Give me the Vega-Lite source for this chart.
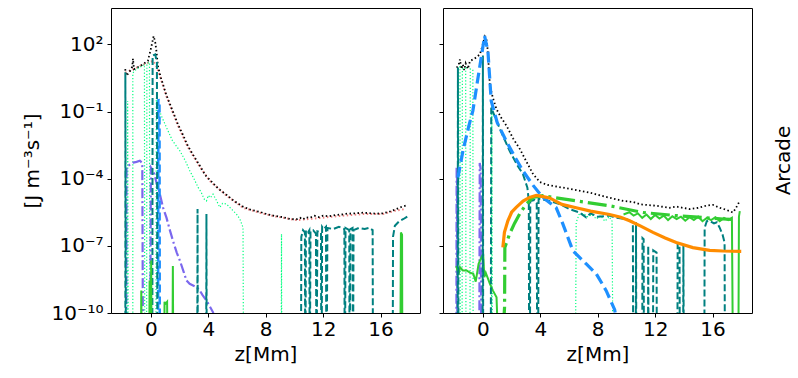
{
  "$schema": "https://vega.github.io/schema/vega-lite/v6.json",
  "padding": {"left": 22, "top": 7, "right": 5, "bottom": 5},
  "config": {
    "font": "DejaVu Sans",
    "view": {"stroke": "black", "strokeWidth": 1},
    "axis": {"grid": false, "domain": false, "tickColor": "black", "tickSize": 4, "labelColor": "black", "titleColor": "black", "labelFontSize": 20, "titleFontSize": 20, "titleFontWeight": "normal", "labelFont": "DejaVu Sans", "titleFont": "DejaVu Sans"},
    "title": {"font": "DejaVu Sans", "fontSize": 20, "fontWeight": "normal", "color": "black"}
  },
  "datasets": {
    "L_tot": [{"z":-1.79,"v":7.76},{"z":-1.72,"v":3.98},{"z":-1.5,"v":5.62},{"z":-1.3,"v":10},{"z":-1.25,"v":22.9},{"z":-1.18,"v":7.76},{"z":-0.9,"v":9.55},{"z":-0.67,"v":11.5},{"z":-0.4,"v":15.1},{"z":-0.21,"v":18.2},{"z":0.0,"v":63.1},{"z":0.19,"v":234},{"z":0.3,"v":126},{"z":0.37,"v":60.3},{"z":0.49,"v":10.7},{"z":0.7,"v":3.16},{"z":1.06,"v":0.589},{"z":1.5,"v":0.112},{"z":1.88,"v":0.0269},{"z":2.2,"v":0.01},{"z":2.57,"v":0.00295},{"z":3.0,"v":0.001},{"z":3.39,"v":3.98e-4},{"z":3.8,"v":1.41e-4},{"z":4.1,"v":8.91e-5},{"z":4.7,"v":3.55e-5},{"z":5.26,"v":1.91e-5},{"z":5.8,"v":1e-5},{"z":6.42,"v":5.62e-6},{"z":7.0,"v":3.98e-6},{"z":7.58,"v":3.31e-6},{"z":8.05,"v":2.63e-6},{"z":8.6,"v":2.19e-6},{"z":9.2,"v":1.91e-6},{"z":9.7,"v":1.58e-6},{"z":10.13,"v":1.51e-6},{"z":10.4,"v":1.78e-6},{"z":10.6,"v":1.51e-6},{"z":10.8,"v":1.91e-6},{"z":11.06,"v":1.78e-6},{"z":11.4,"v":2.19e-6},{"z":11.7,"v":1.91e-6},{"z":12.0,"v":2.24e-6},{"z":12.4,"v":2.09e-6},{"z":12.9,"v":2.4e-6},{"z":13.3,"v":2.51e-6},{"z":13.7,"v":2.75e-6},{"z":14.2,"v":2.82e-6},{"z":14.77,"v":3.02e-6},{"z":15.2,"v":2.88e-6},{"z":15.7,"v":2.75e-6},{"z":16.16,"v":2.82e-6},{"z":16.6,"v":3.31e-6},{"z":17.09,"v":4.37e-6},{"z":17.5,"v":5.62e-6},{"z":17.9,"v":6.61e-6}],
    "L_ohm": [{"z":-1.79,"v":5.37},{"z":-1.2,"v":7.94},{"z":-0.6,"v":12.0},{"z":-0.19,"v":15.1},{"z":0.16,"v":18.2},{"z":0.4,"v":10},{"z":0.7,"v":2.82},{"z":1.06,"v":0.525},{"z":1.5,"v":0.1},{"z":1.88,"v":0.024},{"z":2.57,"v":0.00263},{"z":3.39,"v":3.55e-4},{"z":4.1,"v":7.94e-5},{"z":5.26,"v":1.78e-5},{"z":6.42,"v":5.01e-6},{"z":7.58,"v":3.02e-6},{"z":8.6,"v":2.09e-6},{"z":10.13,"v":1.41e-6},{"z":11.06,"v":1.58e-6},{"z":12.9,"v":2.09e-6},{"z":14.77,"v":2.63e-6},{"z":16.16,"v":2.63e-6},{"z":17.09,"v":3.8e-6},{"z":17.74,"v":4.37e-6}],
    "L_sg": [{"z":-1.62,"v":1e-12},{"z":-1.62,"v":0.295},{"z":-1.58,"v":1e-12},{"z":-1.26,"v":1e-12},{"z":-1.26,"v":5.25},{"z":-1.0,"v":7.94},{"z":-0.7,"v":10},{"z":-0.45,"v":12.6},{"z":-0.43,"v":1e-12},{"z":-0.3,"v":1e-12},{"z":-0.28,"v":14.1},{"z":-0.1,"v":15.8},{"z":-0.08,"v":1e-12},{"z":0.35,"v":1e-12},{"z":0.38,"v":0.398},{"z":0.51,"v":0.148},{"z":0.8,"v":0.0501},{"z":1.09,"v":0.0191},{"z":1.5,"v":0.00501},{"z":2.02,"v":0.00174},{"z":2.4,"v":6.31e-4},{"z":2.71,"v":2.24e-4},{"z":3.0,"v":1e-4},{"z":3.29,"v":4.07e-5},{"z":3.5,"v":2.51e-5},{"z":3.7,"v":1.26e-5},{"z":3.87,"v":1.02e-5},{"z":4.0,"v":1.78e-5},{"z":4.15,"v":1.41e-5},{"z":4.33,"v":2.04e-5},{"z":4.55,"v":1.12e-5},{"z":4.8,"v":5.25e-6},{"z":5.0,"v":7.94e-6},{"z":5.26,"v":7.41e-6},{"z":5.6,"v":4.47e-6},{"z":5.96,"v":2.63e-6},{"z":6.2,"v":1.58e-6},{"z":6.42,"v":6.61e-7},{"z":6.45,"v":1e-12},{"z":9.08,"v":1e-12},{"z":9.1,"v":3.39e-7},{"z":9.12,"v":1e-12}],
    "L_teal": [{"z":-1.78,"v":1e-12},{"z":-1.78,"v":5.62},{"z":-1.74,"v":1e-12},{"z":0.1,"v":1e-12},{"z":0.12,"v":31.6},{"z":0.3,"v":35.5},{"z":0.42,"v":15.8},{"z":0.45,"v":1e-12},{"z":3.23,"v":1e-12},{"z":3.25,"v":4.37e-6},{"z":3.27,"v":1e-12},{"z":3.85,"v":1e-12},{"z":3.87,"v":2.63e-6},{"z":3.89,"v":1e-12},{"z":10.46,"v":1e-12},{"z":10.48,"v":2.51e-7},{"z":10.6,"v":5.01e-7},{"z":10.73,"v":3.98e-7},{"z":10.75,"v":1e-12},{"z":10.77,"v":1e-12},{"z":10.8,"v":5.01e-7},{"z":10.95,"v":3.98e-7},{"z":11.04,"v":5.01e-7},{"z":11.06,"v":1e-12},{"z":11.08,"v":1e-12},{"z":11.12,"v":4.47e-7},{"z":11.3,"v":5.01e-7},{"z":11.5,"v":3.55e-7},{"z":11.53,"v":1e-12},{"z":11.55,"v":1e-12},{"z":11.6,"v":4.47e-7},{"z":11.85,"v":3.98e-7},{"z":11.87,"v":1e-12},{"z":11.9,"v":1e-12},{"z":11.93,"v":7.08e-7},{"z":12.05,"v":5.62e-7},{"z":12.2,"v":7.08e-7},{"z":12.22,"v":1e-12},{"z":12.25,"v":1e-12},{"z":12.3,"v":6.31e-7},{"z":12.7,"v":5.62e-7},{"z":13.1,"v":7.08e-7},{"z":13.48,"v":5.62e-7},{"z":13.5,"v":1e-12},{"z":13.53,"v":1e-12},{"z":13.56,"v":6.31e-7},{"z":13.82,"v":5.01e-7},{"z":13.84,"v":1e-12},{"z":13.86,"v":1e-12},{"z":13.9,"v":5.62e-7},{"z":14.05,"v":6.31e-7},{"z":14.07,"v":1e-12},{"z":14.09,"v":1e-12},{"z":14.12,"v":5.01e-7},{"z":14.5,"v":6.31e-7},{"z":14.9,"v":5.62e-7},{"z":15.2,"v":6.31e-7},{"z":15.45,"v":5.01e-7},{"z":15.47,"v":1e-12},{"z":16.85,"v":1e-12},{"z":16.87,"v":2.51e-7},{"z":17.0,"v":7.94e-7},{"z":17.3,"v":1.26e-6},{"z":17.6,"v":1.58e-6},{"z":17.9,"v":2.09e-6}],
    "L_purple": [{"z":-1.72,"v":1e-12},{"z":-1.7,"v":3.16e-4},{"z":-1.6,"v":3.72e-4},{"z":-1.4,"v":4.47e-4},{"z":-1.23,"v":5.25e-4},{"z":-1.0,"v":5.62e-4},{"z":-0.77,"v":6.31e-4},{"z":-0.6,"v":5.01e-4},{"z":-0.55,"v":1e-12},{"z":-0.05,"v":1e-12},{"z":0.0,"v":3.16e-4},{"z":0.2,"v":2.0e-4},{"z":0.4,"v":6.31e-5},{"z":0.63,"v":2.0e-5},{"z":0.85,"v":5.01e-6},{"z":1.09,"v":1.78e-6},{"z":1.3,"v":5.62e-7},{"z":1.55,"v":1.58e-7},{"z":1.8,"v":5.01e-8},{"z":2.02,"v":2.19e-8},{"z":2.3,"v":6.31e-9},{"z":2.48,"v":2.82e-9},{"z":2.7,"v":2.0e-9},{"z":2.94,"v":1.7e-9},{"z":3.2,"v":1.41e-9},{"z":3.41,"v":1e-9},{"z":3.6,"v":6.31e-10},{"z":3.87,"v":3.63e-10},{"z":4.1,"v":2.0e-10},{"z":4.33,"v":1.07e-10},{"z":4.45,"v":5.01e-11}],
    "L_blue": [{"z":0.5,"v":1e-12},{"z":0.52,"v":0.355},{"z":0.6,"v":0.251},{"z":0.62,"v":1e-12}],
    "L_lime": [{"z":-0.7,"v":1e-12},{"z":-0.67,"v":1e-9},{"z":-0.64,"v":1e-12},{"z":-0.12,"v":1e-12},{"z":-0.09,"v":2.82e-9},{"z":-0.05,"v":1e-12},{"z":0.0,"v":1e-12},{"z":0.02,"v":2.19e-8},{"z":0.05,"v":1e-12},{"z":0.93,"v":1e-12},{"z":0.95,"v":3.16e-10},{"z":1.0,"v":2.51e-10},{"z":1.13,"v":3.16e-10},{"z":1.16,"v":1e-12},{"z":1.5,"v":1e-12},{"z":1.53,"v":1.26e-8},{"z":1.56,"v":1e-12},{"z":17.38,"v":1e-12},{"z":17.42,"v":3.98e-7},{"z":17.5,"v":3.16e-7},{"z":17.52,"v":1e-12}],
    "R_tot": [{"z":-1.83,"v":9.12},{"z":-1.7,"v":11.2},{"z":-1.6,"v":21.4},{"z":-1.5,"v":7.94},{"z":-1.4,"v":12.6},{"z":-1.3,"v":7.08},{"z":-1.2,"v":14.1},{"z":-1.05,"v":7.94},{"z":-0.9,"v":18.2},{"z":-0.6,"v":22.4},{"z":-0.21,"v":35.5},{"z":0.0,"v":100},{"z":0.14,"v":219},{"z":0.25,"v":158},{"z":0.33,"v":60.3},{"z":0.49,"v":1.38},{"z":0.7,"v":0.398},{"z":0.95,"v":0.126},{"z":1.3,"v":0.0501},{"z":1.65,"v":0.0229},{"z":2.1,"v":0.00631},{"z":2.58,"v":0.00209},{"z":3.0,"v":6.31e-4},{"z":3.5,"v":1.58e-4},{"z":3.97,"v":7.08e-5},{"z":4.5,"v":5.25e-5},{"z":5.11,"v":4.47e-5},{"z":6.0,"v":3.55e-5},{"z":7.43,"v":2.4e-5},{"z":8.5,"v":1.58e-5},{"z":9.76,"v":1.02e-5},{"z":10.5,"v":8.91e-6},{"z":11.0,"v":7.08e-6},{"z":12.08,"v":6.17e-6},{"z":13.0,"v":5.01e-6},{"z":13.5,"v":5.62e-6},{"z":14.4,"v":4.37e-6},{"z":15.0,"v":5.01e-6},{"z":15.6,"v":6.31e-6},{"z":16.03,"v":6.76e-6},{"z":16.5,"v":5.01e-6},{"z":17.0,"v":3.98e-6},{"z":17.42,"v":3.09e-6},{"z":17.6,"v":4.47e-6},{"z":17.84,"v":8.71e-6}],
    "R_blue": [{"z":-1.74,"v":1.12e-4},{"z":-1.39,"v":0.00174},{"z":-1.0,"v":0.02},{"z":-0.7,"v":0.107},{"z":-0.23,"v":9.12},{"z":0.12,"v":234},{"z":0.35,"v":50.1},{"z":0.58,"v":0.295},{"z":1.0,"v":0.0316},{"z":1.62,"v":0.0049},{"z":2.2,"v":0.001},{"z":2.79,"v":2.24e-4},{"z":3.5,"v":5.01e-5},{"z":4.18,"v":1.45e-5},{"z":4.7,"v":7.94e-6},{"z":5.11,"v":5.01e-6},{"z":5.57,"v":9.55e-7},{"z":6.27,"v":6.03e-8},{"z":7.2,"v":1.55e-8},{"z":7.9,"v":5.62e-9},{"z":8.59,"v":1e-9},{"z":9.18,"v":1.41e-10},{"z":9.3,"v":5.01e-11}],
    "R_teal": [{"z":-1.76,"v":1e-12},{"z":-1.74,"v":9.12},{"z":-1.7,"v":1e-12},{"z":-0.02,"v":1e-12},{"z":0.0,"v":31.6},{"z":0.02,"v":1e-12},{"z":0.55,"v":1e-12},{"z":0.58,"v":0.148},{"z":1.2,"v":0.0158},{"z":1.86,"v":0.00174},{"z":2.4,"v":3.98e-4},{"z":2.79,"v":1.58e-4},{"z":3.1,"v":3.98e-5},{"z":3.2,"v":1e-5},{"z":3.22,"v":1e-12},{"z":3.28,"v":1e-12},{"z":3.3,"v":1e-5},{"z":3.6,"v":1.12e-5},{"z":3.75,"v":7.94e-6},{"z":3.78,"v":1e-12},{"z":3.85,"v":1e-12},{"z":3.88,"v":1.26e-5},{"z":4.65,"v":1.02e-5},{"z":5.34,"v":7.41e-6},{"z":6.0,"v":4.47e-6},{"z":6.73,"v":3.09e-6},{"z":7.2,"v":1.86e-6},{"z":7.5,"v":2.82e-6},{"z":8.0,"v":2.0e-6},{"z":8.83,"v":2.24e-6},{"z":9.3,"v":1.78e-6},{"z":9.99,"v":1.58e-6},{"z":10.45,"v":1.12e-6},{"z":10.47,"v":1e-12},{"z":10.65,"v":1e-12},{"z":10.67,"v":1.12e-6},{"z":10.69,"v":1e-12},{"z":11.1,"v":1e-12},{"z":11.12,"v":2.24e-7},{"z":11.2,"v":2.0e-7},{"z":11.22,"v":1e-12},{"z":11.5,"v":1e-12},{"z":11.52,"v":1e-7},{"z":11.54,"v":1e-12},{"z":11.85,"v":1e-12},{"z":11.87,"v":6.31e-8},{"z":12.1,"v":5.01e-8},{"z":12.12,"v":1e-12},{"z":13.55,"v":1e-12},{"z":13.57,"v":1.26e-7},{"z":13.7,"v":1.12e-7},{"z":13.72,"v":1e-12},{"z":13.95,"v":1e-12},{"z":13.97,"v":1e-7},{"z":14.0,"v":1e-12},{"z":15.43,"v":1e-12},{"z":15.45,"v":6.31e-7},{"z":15.6,"v":1.26e-6},{"z":15.8,"v":1.32e-6},{"z":16.1,"v":1e-6},{"z":16.3,"v":1.12e-6},{"z":16.49,"v":6.61e-7},{"z":16.7,"v":3.16e-7},{"z":16.84,"v":1.41e-7},{"z":16.86,"v":1e-12}],
    "R_orange": [{"z":1.39,"v":8.51e-8},{"z":1.5,"v":3.98e-7},{"z":1.74,"v":1.32e-6},{"z":2.0,"v":3.16e-6},{"z":2.32,"v":5.25e-6},{"z":2.8,"v":1e-5},{"z":3.25,"v":1.45e-5},{"z":3.72,"v":1.78e-5},{"z":4.2,"v":1.58e-5},{"z":4.65,"v":1.38e-5},{"z":5.5,"v":7.08e-6},{"z":6.5,"v":5.01e-6},{"z":7.5,"v":3.55e-6},{"z":8.83,"v":2.51e-6},{"z":9.6,"v":1.91e-6},{"z":10.22,"v":1.32e-6},{"z":11.0,"v":7.59e-7},{"z":11.85,"v":3.98e-7},{"z":12.7,"v":2.24e-7},{"z":13.47,"v":1.41e-7},{"z":14.63,"v":8.32e-8},{"z":15.8,"v":6.31e-8},{"z":16.72,"v":5.89e-8},{"z":18.0,"v":5.62e-8}],
    "R_ldd": [{"z":1.3,"v":1e-12},{"z":1.51,"v":1.82e-10},{"z":1.53,"v":8.51e-8},{"z":1.86,"v":3.39e-7},{"z":2.2,"v":1e-6},{"z":2.56,"v":2.63e-6},{"z":3.0,"v":7.08e-6},{"z":3.48,"v":1.45e-5},{"z":4.18,"v":1.74e-5},{"z":5.0,"v":1.41e-5},{"z":6.5,"v":1.02e-5},{"z":8.83,"v":6.17e-6},{"z":11.15,"v":3.09e-6},{"z":13.47,"v":2.24e-6},{"z":16.72,"v":1.58e-6},{"z":17.3,"v":1.51e-6}],
    "R_lime_a": [{"z":-1.85,"v":1.26e-8},{"z":-1.7,"v":5.01e-9},{"z":-1.6,"v":1.12e-8},{"z":-1.4,"v":7.94e-9},{"z":-1.14,"v":7.94e-9},{"z":-0.9,"v":6.31e-9},{"z":-0.67,"v":5.62e-9},{"z":-0.5,"v":2.51e-9},{"z":-0.3,"v":1.58e-8},{"z":0.02,"v":4.37e-8},{"z":0.1,"v":3.98e-9},{"z":0.2,"v":6.31e-9},{"z":0.49,"v":2.0e-9},{"z":0.7,"v":1e-9},{"z":0.95,"v":5.01e-10},{"z":1.1,"v":1e-12}],
    "R_lime_b": [{"z":9.8,"v":2.51e-6},{"z":10.2,"v":3.16e-6},{"z":10.5,"v":2.24e-6},{"z":10.8,"v":2.82e-6},{"z":11.1,"v":1.78e-6},{"z":11.4,"v":2.51e-6},{"z":11.7,"v":1.58e-6},{"z":12.0,"v":2.4e-6},{"z":12.3,"v":1.66e-6},{"z":12.6,"v":2.24e-6},{"z":12.9,"v":1.41e-6},{"z":13.2,"v":2.09e-6},{"z":13.5,"v":1.58e-6},{"z":13.8,"v":2.0e-6},{"z":14.1,"v":1.32e-6},{"z":14.4,"v":1.91e-6},{"z":14.7,"v":1.41e-6},{"z":15.0,"v":2.0e-6},{"z":15.3,"v":1.26e-6},{"z":15.6,"v":1.78e-6},{"z":15.9,"v":1.41e-6},{"z":16.2,"v":1.91e-6},{"z":16.5,"v":1.26e-6},{"z":16.8,"v":1.78e-6},{"z":17.1,"v":1.41e-6},{"z":17.35,"v":1.78e-6},{"z":17.42,"v":1e-12},{"z":17.8,"v":1e-12},{"z":17.84,"v":2.0e-6},{"z":17.9,"v":3.55e-6}],
    "R_sg": [{"z":-1.75,"v":1e-12},{"z":-1.72,"v":8.91},{"z":-1.6,"v":10},{"z":-1.58,"v":1e-12},{"z":-1.45,"v":1e-12},{"z":-1.43,"v":7.94},{"z":-1.2,"v":8.91},{"z":-1.18,"v":1e-12},{"z":-0.9,"v":1e-12},{"z":-0.88,"v":7.94},{"z":-0.7,"v":7.08},{"z":-0.68,"v":1e-12},{"z":0.6,"v":1e-12},{"z":0.62,"v":0.251},{"z":0.66,"v":1e-12},{"z":6.45,"v":1e-12},{"z":6.5,"v":1.12e-6},{"z":6.7,"v":2.51e-6},{"z":7.0,"v":2.82e-6},{"z":7.3,"v":2.0e-6},{"z":7.6,"v":2.51e-6},{"z":7.9,"v":1.58e-6},{"z":8.2,"v":2.24e-6},{"z":8.5,"v":1.26e-6},{"z":8.8,"v":2.0e-6},{"z":9.0,"v":1.26e-6},{"z":9.06,"v":1e-12}],
    "R_purple": [{"z":-1.85,"v":1e-12},{"z":-1.83,"v":3.16e-4},{"z":-1.8,"v":1e-4},{"z":-1.78,"v":1e-12},{"z":-0.25,"v":1e-12},{"z":-0.22,"v":5.01e-4},{"z":-0.15,"v":2.51e-4},{"z":-0.12,"v":1e-12}]
  },
  "hconcat": [
    {
      "width": 309, "height": 305,
      "encoding": {
        "x": {"field": "z", "type": "quantitative", "scale": {"domain": [-2.78, 18.75], "nice": false, "zero": false}, "axis": {"values": [0, 4, 8, 12, 16], "title": "z[Mm]", "labelPadding": 2, "titlePadding": 5}},
        "y": {"field": "v", "type": "quantitative", "scale": {"type": "log", "domain": [1e-10, 4200], "nice": false}, "axis": {"values": [100, 0.1, 0.0001, 1e-7, 1e-10], "title": "[J m⁻³s⁻¹]", "labelPadding": 4, "titlePadding": 8, "labelExpr": "round(log(datum.value)/LN10) == 2 ? '10²' : round(log(datum.value)/LN10) == -1 ? '10⁻¹' : round(log(datum.value)/LN10) == -4 ? '10⁻⁴' : round(log(datum.value)/LN10) == -7 ? '10⁻⁷' : '10⁻¹⁰'"}},
        "order": {"value": null}
      },
      "layer": [
        {"data": {"name": "L_ohm"}, "mark": {"type": "line", "clip": true, "color": "#f08080", "strokeWidth": 2, "strokeDash": [1.5, 2.5]}},
        {"data": {"name": "L_tot"}, "mark": {"type": "line", "clip": true, "color": "black", "strokeWidth": 1.8, "strokeDash": [1.5, 2.5]}},
        {"data": {"name": "L_sg"}, "mark": {"type": "line", "clip": true, "color": "#00ff7f", "strokeWidth": 1.2, "strokeDash": [1.2, 2]}},
        {"data": {"name": "L_purple"}, "mark": {"type": "line", "clip": true, "color": "#7b68ee", "strokeWidth": 2.2, "strokeDash": [10, 3, 2, 3]}},
        {"data": {"name": "L_blue"}, "mark": {"type": "line", "clip": true, "color": "#1e90ff", "strokeWidth": 2.5, "strokeDash": [8, 4]}},
        {"data": {"name": "L_teal"}, "mark": {"type": "line", "clip": true, "color": "#008080", "strokeWidth": 2, "strokeDash": [7, 3]}},
        {"data": {"name": "L_lime"}, "mark": {"type": "line", "clip": true, "color": "#32cd32", "strokeWidth": 2}}
      ]
    },
    {
      "width": 309, "height": 305,
      "title": {"text": "Arcade", "orient": "right", "angle": -90, "anchor": "middle", "offset": 2},
      "encoding": {
        "x": {"field": "z", "type": "quantitative", "scale": {"domain": [-2.78, 18.75], "nice": false, "zero": false}, "axis": {"values": [0, 4, 8, 12, 16], "title": "z[Mm]", "labelPadding": 2, "titlePadding": 5}},
        "y": {"field": "v", "type": "quantitative", "scale": {"type": "log", "domain": [1e-10, 4200], "nice": false}, "axis": {"values": [100, 0.1, 0.0001, 1e-7, 1e-10], "title": null, "labels": false}},
        "order": {"value": null}
      },
      "layer": [
        {"data": {"name": "R_tot"}, "mark": {"type": "line", "clip": true, "color": "black", "strokeWidth": 1.8, "strokeDash": [1.5, 2.5]}},
        {"data": {"name": "R_sg"}, "mark": {"type": "line", "clip": true, "color": "#00ff7f", "strokeWidth": 1.2, "strokeDash": [1.2, 2]}},
        {"data": {"name": "R_purple"}, "mark": {"type": "line", "clip": true, "color": "#7b68ee", "strokeWidth": 2.2, "strokeDash": [10, 3, 2, 3]}},
        {"data": {"name": "R_lime_a"}, "mark": {"type": "line", "clip": true, "color": "#32cd32", "strokeWidth": 2}},
        {"data": {"name": "R_lime_b"}, "mark": {"type": "line", "clip": true, "color": "#32cd32", "strokeWidth": 2}},
        {"data": {"name": "R_teal"}, "mark": {"type": "line", "clip": true, "color": "#008080", "strokeWidth": 2, "strokeDash": [7, 3]}},
        {"data": {"name": "R_blue"}, "mark": {"type": "line", "clip": true, "color": "#1e90ff", "strokeWidth": 3.2, "strokeDash": [11, 5]}},
        {"data": {"name": "R_ldd"}, "mark": {"type": "line", "clip": true, "color": "#32cd32", "strokeWidth": 3.2, "strokeDash": [19, 5, 3, 5]}},
        {"data": {"name": "R_orange"}, "mark": {"type": "line", "clip": true, "color": "#ff8c00", "strokeWidth": 3.2}}
      ]
    }
  ],
  "spacing": 17
}
